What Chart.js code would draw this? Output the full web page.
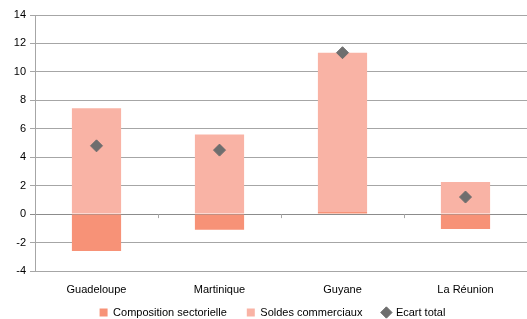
<!DOCTYPE html>
<html lang="fr">
<head>
    <meta charset="UTF-8">
    <title>Ecart total</title>
    <script src="https://cdn.jsdelivr.net/npm/chart.js@4.4.1/dist/chart.umd.min.js"></script>
    <style>
        html, body { margin: 0; padding: 0; background: #fff; }
        #wrap { width: 527px; height: 319px; }
    </style>
</head>
<body>
    <div id="wrap"><canvas id="myChart" width="527" height="319"></canvas></div>

    <script>
        'use strict';
        // données
        const territoires = ['Guadeloupe', 'Martinique', 'Guyane', 'La Réunion'];
        const compositionSectorielle = [-2.6, -1.1, 0.15, -1.05];
        const soldesCommerciaux = [7.45, 5.6, 11.2, 2.25];
        const ecartTotal = [4.8, 4.5, 11.35, 1.2];
        const yTicks = [-4, -2, 0, 2, 4, 6, 8, 10, 12, 14];

        const font = { family: '"Liberation Sans", Arial, sans-serif', size: 11 };
        const gris = '#A6A6A6';

        // légende : hauteur réduite, puis remontée pour que le texte tombe en bas du canvas
        const legendHeight = {
            id: 'legendHeight',
            afterInit(chart) {
                const lg = chart.legend;
                const fit = lg.fit.bind(lg);
                lg.fit = function () { fit(); this.height = 18; };
            },
            afterLayout(chart) {
                const lg = chart.legend;
                lg.top -= 14;
                lg.height += 14;
                // légèrement décalée vers la droite comme dans l'original
                lg.left += 9;
                lg.right += 9;
            }
        };

        // petites graduations de l'axe des catégories sur la ligne du zéro
        const zeroTicks = {
            id: 'zeroTicks',
            afterDatasetsDraw(chart) {
                const x = chart.scales.x, y = chart.scales.y;
                const y0 = y.getPixelForValue(0);
                const c = chart.ctx;
                c.save();
                c.strokeStyle = gris;
                c.lineWidth = 1;
                for (let i = 1; i < territoires.length; i++) {
                    const px = Math.round((x.getPixelForValue(i - 1) + x.getPixelForValue(i)) / 2) + 0.5;
                    c.beginPath();
                    c.moveTo(px, y0);
                    c.lineTo(px, y0 + 4);
                    c.stroke();
                }
                c.restore();
            }
        };

        const ctx = document.getElementById('myChart').getContext('2d');
        const myChart = new Chart(ctx, {
            data: {
                labels: territoires,
                datasets: [{
                    type: 'bar',
                    label: 'Composition sectorielle',
                    data: compositionSectorielle,
                    backgroundColor: '#F79277',
                    stack: 'barres',
                    pointStyle: 'rect',
                    barPercentage: 0.4,
                    categoryPercentage: 1,
                    order: 2
                }, {
                    type: 'bar',
                    label: 'Soldes commerciaux',
                    data: soldesCommerciaux,
                    backgroundColor: '#F9B3A5',
                    stack: 'barres',
                    pointStyle: 'rect',
                    barPercentage: 0.4,
                    categoryPercentage: 1,
                    order: 2
                }, {
                    type: 'line',
                    label: 'Ecart total',
                    data: ecartTotal,
                    stack: 'ecart',
                    showLine: false,
                    pointStyle: 'rectRot',
                    pointRadius: 6,
                    pointBackgroundColor: '#6E6E6E',
                    pointBorderColor: '#6E6E6E',
                    backgroundColor: '#6E6E6E',
                    borderColor: '#6E6E6E',
                    order: 1
                }]
            },
            options: {
                responsive: false,
                animation: false,
                layout: { autoPadding: false, padding: { top: 15, right: 0, left: 0, bottom: 0 } },
                plugins: {
                    tooltip: { enabled: false },
                    legend: {
                        position: 'bottom',
                        labels: {
                            usePointStyle: true,
                            boxWidth: 8,
                            boxHeight: 8,
                            padding: 20,
                            color: '#000',
                            font: font,
                            sort: (a, b) => a.datasetIndex - b.datasetIndex
                        }
                    }
                },
                scales: {
                    x: {
                        stacked: true,
                        grid: { display: false },
                        border: { display: false },
                        ticks: { color: '#000', font: font, padding: 4 },
                        afterFit: (scale) => { scale.height = 30; }
                    },
                    y: {
                        stacked: true,
                        min: -4,
                        max: 14,
                        afterBuildTicks: (scale) => { scale.ticks = yTicks.map(v => ({ value: v })); },
                        grid: {
                            color: (c) => c.tick && c.tick.value === 0 ? '#8C8C8C' : gris,
                            lineWidth: 1,
                            tickLength: 5
                        },
                        border: { display: true, color: gris },
                        ticks: { color: '#000', font: font, padding: 4 },
                        afterFit: (scale) => { scale.width = 35; }
                    }
                }
            },
            plugins: [legendHeight, zeroTicks]
        });
    </script>
</body>
</html>
